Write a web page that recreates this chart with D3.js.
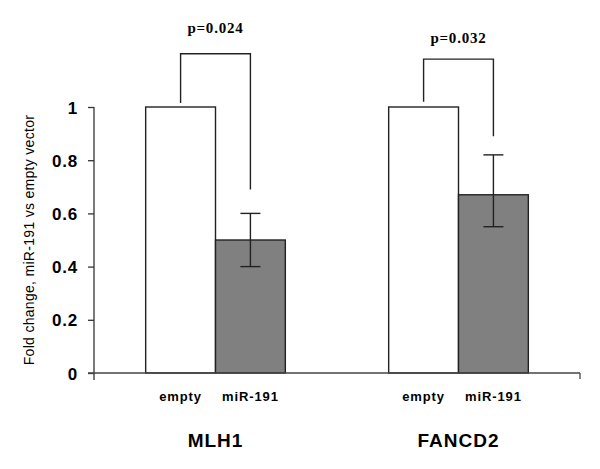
<!DOCTYPE html>
<html>
<head>
<meta charset="utf-8">
<script src="https://cdn.jsdelivr.net/npm/d3@7"></script>
<style>
    body { margin: 0; background: #fff; }
    svg { display: block; }
    .tick-label { font-family: "Liberation Sans", Arial, sans-serif; font-weight: bold; font-size: 17px; letter-spacing: 0.8px; }
    .cat-label { font-family: "Liberation Sans", Arial, sans-serif; font-weight: bold; font-size: 13px; letter-spacing: 0.9px; }
    .group-label { font-family: "Liberation Sans", Arial, sans-serif; font-weight: bold; font-size: 19px; letter-spacing: 1px; }
    .p-label { font-family: "Liberation Serif", "Times New Roman", serif; font-weight: bold; font-size: 15px; letter-spacing: 0.8px; }
    .y-title { font-family: "Liberation Sans", Arial, sans-serif; font-size: 14px; letter-spacing: 0.3px; }
</style>
</head>
<body>
<div id="chart"></div>
<script>
"use strict";

var Genes = ["MLH1", "FANCD2"];
var Conditions = ["empty", "miR-191"];
var YTicks = [0, 0.2, 0.4, 0.6, 0.8, 1];
var YTickLabels = ["0", "0.2", "0.4", "0.6", "0.8", "1"];

// fold change per gene, in the order of Conditions
var MeanValues = {
    "MLH1": [1, 0.5],
    "FANCD2": [1, 0.67]
};
// error bar low / high for the miR-191 bars
var ErrorLow = { "MLH1": 0.4, "FANCD2": 0.55 };
var ErrorHigh = { "MLH1": 0.6, "FANCD2": 0.82 };

var PValues = ["p=0.024", "p=0.032"];
// bracket: left leg bottom, top, right leg bottom (in data units)
var BracketLeft = [1.015, 1.02];
var BracketTop = [1.2, 1.18];
var BracketRight = [0.69, 0.89];
var PLabelY = [1.28, 1.24];

var YTitle = "Fold change, miR-191 vs empty vector";

var FillColors = { "empty": "#ffffff", "miR-191": "#808080" };

var Width = 600, Height = 469;
var AxisX = 94, AxisRight = 580, AxisTopY = 107, AxisBottomY = 373;

var svg = d3.select("#chart")
    .append("svg")
    .attr("width", Width)
    .attr("height", Height);

var y = d3.scaleLinear()
    .domain([0, 1])
    .range([AxisBottomY, AxisTopY]);

var x0 = d3.scaleBand()
    .domain(Genes)
    .range([AxisX, AxisRight])
    .paddingInner(0)
    .paddingOuter(0);

var x1 = d3.scaleBand()
    .domain(Conditions)
    .range([0, x0.bandwidth()])
    .paddingInner(0)
    .paddingOuter(0.74);

// y axis
var yAxis = d3.axisLeft(y)
    .tickValues(YTicks)
    .tickFormat(function (d, i) { return YTickLabels[i]; })
    .tickSize(6)
    .tickPadding(10);

var yAxisG = svg.append("g")
    .attr("transform", "translate(" + AxisX + ",0)")
    .call(yAxis);
yAxisG.select(".domain").remove();
yAxisG.selectAll(".tick line").attr("stroke", "#333").attr("stroke-width", 1.3);
yAxisG.selectAll(".tick text")
    .attr("class", "tick-label")
    .attr("fill", "#000")
    .attr("dy", "0.36em");

svg.append("line")
    .attr("x1", AxisX).attr("x2", AxisX)
    .attr("y1", y(1)).attr("y2", y(0) + 7)
    .attr("stroke", "#333").attr("stroke-width", 1.3);

// bars
var groups = svg.selectAll("g.gene")
    .data(Genes)
    .enter()
    .append("g")
    .attr("class", "gene")
    .attr("transform", function (g) { return "translate(" + x0(g) + ",0)"; });

groups.selectAll("rect")
    .data(function (g) {
        return Conditions.map(function (c, i) { return { gene: g, cond: c, value: MeanValues[g][i] }; });
    })
    .enter()
    .append("rect")
    .attr("x", function (d) { return x1(d.cond); })
    .attr("width", x1.bandwidth())
    .attr("y", function (d) { return y(d.value); })
    .attr("height", function (d) { return y(0) - y(d.value); })
    .attr("fill", function (d) { return FillColors[d.cond]; })
    .attr("stroke", "#222")
    .attr("stroke-width", 1.4);

// error bars on miR-191
groups.each(function (g) {
    var cx = x1("miR-191") + x1.bandwidth() / 2;
    var grp = d3.select(this);
    var capHalf = 10;
    grp.append("line")
        .attr("x1", cx).attr("x2", cx)
        .attr("y1", y(ErrorLow[g])).attr("y2", y(ErrorHigh[g]))
        .attr("stroke", "#222").attr("stroke-width", 1.4);
    [ErrorLow[g], ErrorHigh[g]].forEach(function (v) {
        grp.append("line")
            .attr("x1", cx - capHalf).attr("x2", cx + capHalf)
            .attr("y1", y(v)).attr("y2", y(v))
            .attr("stroke", "#222").attr("stroke-width", 1.4);
    });
});

// x axis
svg.append("line")
    .attr("x1", AxisX - 6).attr("x2", AxisRight)
    .attr("y1", y(0)).attr("y2", y(0))
    .attr("stroke", "#444").attr("stroke-width", 1.3);
svg.append("line")
    .attr("x1", AxisRight).attr("x2", AxisRight)
    .attr("y1", y(0)).attr("y2", y(0) + 6)
    .attr("stroke", "#444").attr("stroke-width", 1.3);

// category labels
groups.selectAll("text.cat-label")
    .data(Conditions)
    .enter()
    .append("text")
    .attr("class", "cat-label")
    .attr("x", function (c) { return x1(c) + x1.bandwidth() / 2; })
    .attr("y", 401)
    .attr("text-anchor", "middle")
    .text(function (c) { return c; });

groups.append("text")
    .attr("class", "group-label")
    .attr("x", x0.bandwidth() / 2)
    .attr("y", 447)
    .attr("text-anchor", "middle")
    .text(function (g) { return g; });

// significance brackets
groups.each(function (g, i) {
    var lx = x1("empty") + x1.bandwidth() / 2;
    var rx = x1("miR-191") + x1.bandwidth() / 2;
    var grp = d3.select(this);
    var path = d3.path();
    path.moveTo(lx, y(BracketLeft[i]));
    path.lineTo(lx, y(BracketTop[i]));
    path.lineTo(rx, y(BracketTop[i]));
    path.lineTo(rx, y(BracketRight[i]));
    grp.append("path")
        .attr("d", path.toString())
        .attr("fill", "none")
        .attr("stroke", "#222")
        .attr("stroke-width", 1.4);
    grp.append("text")
        .attr("class", "p-label")
        .attr("x", (lx + rx) / 2)
        .attr("y", y(PLabelY[i]))
        .attr("text-anchor", "middle")
        .text(PValues[i]);
});

// y title
svg.append("text")
    .attr("class", "y-title")
    .attr("transform", "translate(34," + (y(0) + y(1)) / 2 + ") rotate(-90)")
    .attr("text-anchor", "middle")
    .text(YTitle);
</script>
</body>
</html>
